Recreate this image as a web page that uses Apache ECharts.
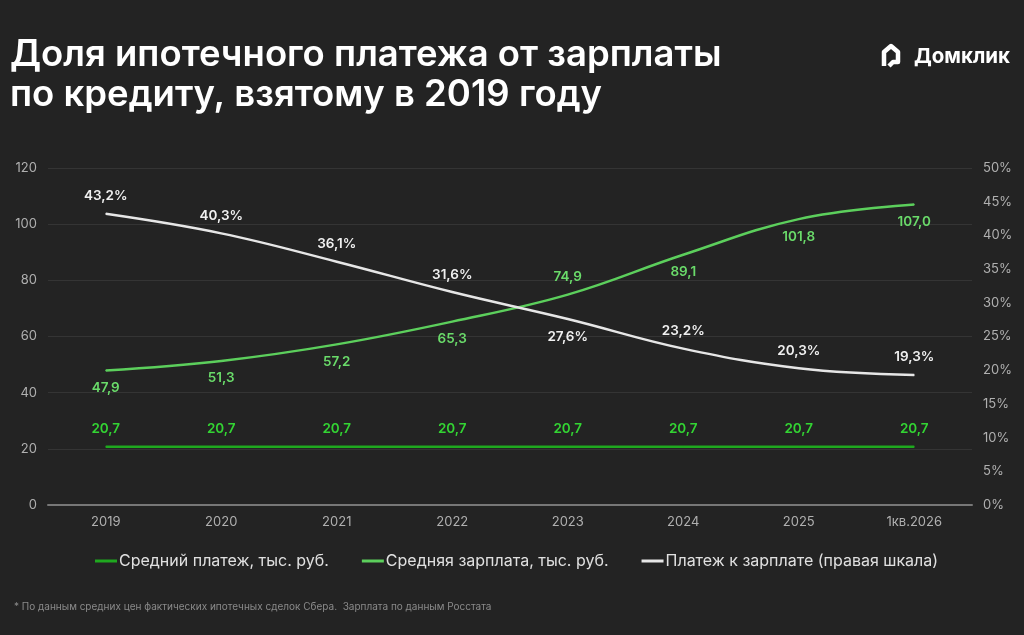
<!DOCTYPE html>
<html><head><meta charset="utf-8">
<script src="https://cdn.jsdelivr.net/npm/echarts@6/dist/echarts.min.js"></script>
<style>html,body{margin:0;padding:0;background:#232323}#c{width:1024px;height:635px}</style>
</head><body><div id="c"></div>
<script>
const categories = ['2019','2020','2021','2022','2023','2024','2025','1кв.2026'];
const payment = [20.7,20.7,20.7,20.7,20.7,20.7,20.7,20.7];
const salary = [47.9,51.3,57.2,65.3,74.9,89.1,101.8,107.0];
const ratio = [43.2,40.3,36.1,31.6,27.6,23.2,20.3,19.3];
const salaryLabelPos = ['bottom','bottom','bottom','bottom','top','bottom','bottom','bottom'];
const ratioLabelPos = ['top','top','top','top','bottom','top','top','top'];
const leftTicks = [0,20,40,60,80,100,120];
const rightTicks = [0,5,10,15,20,25,30,35,40,45,50];

const fmt = v => v.toFixed(1).replace('.', ',');
const font = 'Inter, "Noto Sans", sans-serif';
const chart = echarts.init(document.getElementById('c'));
chart.setOption({
  backgroundColor: '#232323',
  textStyle: {fontFamily: font},
  animation: false,
  title: {
    text: 'Доля ипотечного платежа от зарплаты\nпо кредиту, взятому в 2019 году',
    left: 5, top: 30,
    textStyle: {color: '#ffffff', fontSize: 36.5, fontWeight: 600, lineHeight: 40, fontFamily: font}
  },
  graphic: [
    {type: 'polyline', shape: {points: [[884,66],[884,52],[891,46],[898,52],[898,62],[893,62],[889,66]]}, style: {stroke: '#ffffff', lineWidth: 4.5, fill: null, lineJoin: 'round'}},
    {type: 'text', left: 914, top: 46, style: {text: 'Домклик', fill: '#ffffff', font: '700 20.5px ' + font}},
    {type: 'text', left: 14, top: 602, style: {text: '* По данным средних цен фактических ипотечных сделок Сбера.  Зарплата по данным Росстата', fill: '#8a8a8a', font: '10px ' + font}}
  ],
  legend: {
    bottom: 61, left: 90, itemGap: 33, itemWidth: 22, itemHeight: 3,
    icon: 'rect',
    textStyle: {color: '#e0e0e0', fontSize: 16, fontFamily: font, padding: [0,0,0,-3]},
    data: ['Средний платеж, тыс. руб.','Средняя зарплата, тыс. руб.','Платеж к зарплате (правая шкала)']
  },
  grid: {left: 48, right: 52, top: 168, bottom: 130},
  xAxis: {
    type: 'category', data: categories,
    axisLine: {lineStyle: {color: '#777', width: 2}},
    axisTick: {show: false},
    axisLabel: {color: '#b0b0b0', fontSize: 13, margin: 11}
  },
  yAxis: [
    {type: 'value', min: leftTicks[0], max: leftTicks[leftTicks.length-1], interval: 20,
     axisLabel: {color: '#b0b0b0', fontSize: 13, margin: 11},
     splitLine: {lineStyle: {color: '#343434', width: 1}},
     axisLine: {show: false}, axisTick: {show: false}},
    {type: 'value', min: rightTicks[0], max: rightTicks[rightTicks.length-1], interval: 5,
     axisLabel: {color: '#b0b0b0', fontSize: 13, margin: 11, formatter: '{value}%'},
     splitLine: {show: false}, axisLine: {show: false}, axisTick: {show: false}}
  ],
  series: [
    {name: 'Средний платеж, тыс. руб.', type: 'line', data: payment, symbol: 'circle', symbolSize: 1, showSymbol: true,
     lineStyle: {color: '#1fa81f', width: 2.5}, itemStyle: {color: '#1fa81f'},
     label: {show: true, position: 'top', distance: 10, color: '#33d433', fontSize: 13.5, fontWeight: 600, formatter: p => fmt(p.value)}},
    {name: 'Средняя зарплата, тыс. руб.', type: 'line', data: salary.map((v,i)=>({value: v, label: {position: salaryLabelPos[i]}})), symbol: 'circle', symbolSize: 1, showSymbol: true, smooth: 0.4,
     lineStyle: {color: '#5ccf5c', width: 2.5}, itemStyle: {color: '#5ccf5c'},
     label: {show: true, distance: 10, color: '#6adb6a', fontSize: 13.5, fontWeight: 600, formatter: p => fmt(p.value)}},
    {name: 'Платеж к зарплате (правая шкала)', type: 'line', yAxisIndex: 1, data: ratio.map((v,i)=>({value: v, label: {position: ratioLabelPos[i]}})), symbol: 'circle', symbolSize: 1, showSymbol: true, smooth: 0.4,
     lineStyle: {color: '#e6e6e6', width: 2.5}, itemStyle: {color: '#e6e6e6'},
     label: {show: true, distance: 10, color: '#f0f0f0', fontSize: 13.5, fontWeight: 600, formatter: p => fmt(p.value) + '%'}}
  ]
});
</script></body></html>
